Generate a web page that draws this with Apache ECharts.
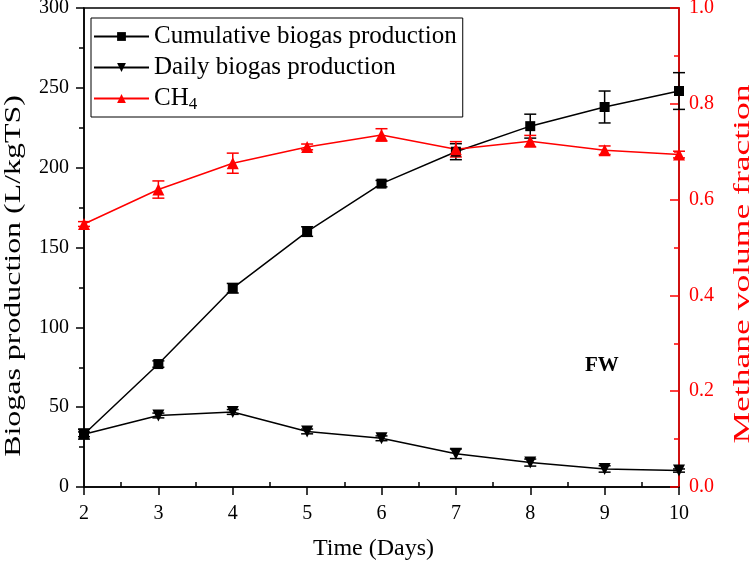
<!DOCTYPE html>
<html>
<head>
<meta charset="utf-8">
<script src="https://cdn.jsdelivr.net/npm/echarts@6/dist/echarts.min.js"></script>
<style>
  html, body { margin: 0; padding: 0; background: #fff; }
  #chart { width: 751px; height: 565px; }
</style>
</head>
<body>
<div id="chart"></div>
<script>
// days
var days = [2, 3, 4, 5, 6, 7, 8, 9, 10];
// cumulative biogas production (L/kgTS) and error
var cumulative = [33, 77, 124.5, 160, 190, 210, 226, 238, 248];
var cumulativeErr = [3, 2, 3, 3, 2, 5, 7.5, 10, 11.5];
// daily biogas production (L/kgTS) and error
var daily = [33, 44.8, 47, 34.8, 30.5, 20.8, 15.3, 11.3, 10.3];
var dailyErr = [1.5, 1.5, 1.5, 1.5, 1.5, 3, 2.2, 2, 1];
// methane volume fraction and error
var ch4 = [0.549, 0.621, 0.676, 0.71, 0.735, 0.705, 0.722, 0.703, 0.694];
var ch4Err = [0.005, 0.018, 0.021, 0.006, 0.013, 0.016, 0.012, 0.009, 0.007];

var font = '"Liberation Serif", "Times New Roman", serif';

function pairs(ys) {
  return days.map(function (d, i) { return [d, ys[i]]; });
}
function errData(ys, es) {
  return days.map(function (d, i) { return [d, ys[i] - es[i], ys[i] + es[i]]; });
}
function errSeries(ys, es, color, yIndex) {
  return {
    type: 'custom',
    yAxisIndex: yIndex,
    data: errData(ys, es),
    z: 3,
    silent: true,
    renderItem: function (params, api) {
      var lo = api.coord([api.value(0), api.value(1)]);
      var hi = api.coord([api.value(0), api.value(2)]);
      var w = 6;
      var st = { stroke: color, lineWidth: 1.5 };
      return {
        type: 'group',
        children: [
          { type: 'line', shape: { x1: lo[0], y1: lo[1], x2: hi[0], y2: hi[1] }, style: st },
          { type: 'line', shape: { x1: lo[0] - w, y1: lo[1], x2: lo[0] + w, y2: lo[1] }, style: st },
          { type: 'line', shape: { x1: hi[0] - w, y1: hi[1], x2: hi[0] + w, y2: hi[1] }, style: st }
        ]
      };
    }
  };
}

var chart = echarts.init(document.getElementById('chart'));
var option = {
  animation: false,
  textStyle: { fontFamily: font },
  grid: {
    left: 84, right: 72, top: 8, bottom: 78,
    containLabel: false, outerBoundsMode: 'none',
    show: true, borderColor: '#000', borderWidth: 1.5, backgroundColor: 'transparent'
  },
  legend: {
    orient: 'vertical',
    left: 91, top: 18,
    padding: [6, 6, 4, 2],
    borderColor: '#000', borderWidth: 1,
    itemWidth: 55, itemHeight: 11, itemGap: 6,
    textStyle: {
      fontFamily: font, fontSize: 25, color: '#000',
      rich: {
        n: { fontFamily: font, fontSize: 25, color: '#000' },
        s: { fontFamily: font, fontSize: 17, color: '#000', verticalAlign: 'bottom', padding: [12, 0, 0, 0] }
      }
    },
    formatter: function (name) {
      if (name === 'CH4') return '{n|CH}{s|4}';
      return name;
    },
    data: ['Cumulative biogas production', 'Daily biogas production', 'CH4']
  },
  xAxis: [
    {
      type: 'value', min: 2, max: 10, interval: 1,
      name: 'Time (Days)', nameLocation: 'middle', nameGap: 50,
      nameTextStyle: { fontFamily: font, fontSize: 24, color: '#000', padding: [0, 16, 0, 0] },
      axisLine: { lineStyle: { color: '#000', width: 1.5 } },
      axisTick: { length: 8, lineStyle: { color: '#000', width: 1.5 } },
      axisLabel: { fontFamily: font, fontSize: 20, color: '#000', margin: 17 },
      splitLine: { show: false }
    },
    {
      // inward minor ticks on the time axis
      type: 'value', min: 2, max: 10, interval: 1, position: 'bottom',
      axisLine: { show: false },
      axisTick: { show: false, inside: true },
      minorTick: { show: true, splitNumber: 2, length: 5, lineStyle: { color: '#000', width: 1.5 } },
      axisLabel: { show: false },
      splitLine: { show: false }
    }
  ],
  yAxis: [
    {
      type: 'value', min: 0, max: 300, interval: 50, position: 'left',
      axisLine: { show: true, lineStyle: { color: '#000', width: 1.5 } },
      axisTick: { show: true, length: 8, lineStyle: { color: '#000', width: 1.5 } },
      minorTick: { show: true, splitNumber: 2, length: 5, lineStyle: { color: '#000', width: 1.5 } },
      axisLabel: { fontFamily: font, fontSize: 20, color: '#000', margin: 15 },
      splitLine: { show: false }
    },
    {
      type: 'value', min: 0, max: 1, interval: 0.2, position: 'right',
      axisLine: { show: true, lineStyle: { color: '#ff0000', width: 1.5 } },
      axisTick: { show: true, inside: true, length: 9, lineStyle: { color: '#ff0000', width: 1.5 } },
      minorTick: { show: true, splitNumber: 2, length: 5, lineStyle: { color: '#ff0000', width: 1.5 } },
      axisLabel: {
        fontFamily: font, fontSize: 20, color: '#ff0000', margin: 10,
        formatter: function (v) { return v.toFixed(1); }
      },
      splitLine: { show: false }
    }
  ],
  series: [
    {
      name: 'Cumulative biogas production', type: 'line', yAxisIndex: 0,
      data: pairs(cumulative), symbol: 'rect', symbolSize: 10, showAllSymbol: true,
      lineStyle: { color: '#000', width: 1.5 }, itemStyle: { color: '#000' }, z: 4
    },
    {
      name: 'Daily biogas production', type: 'line', yAxisIndex: 0,
      data: pairs(daily), symbol: 'triangle', symbolRotate: 180, symbolSize: 12,
      lineStyle: { color: '#000', width: 1.5 }, itemStyle: { color: '#000' }, z: 4
    },
    {
      name: 'CH4', type: 'line', yAxisIndex: 1,
      data: pairs(ch4), symbol: 'triangle', symbolSize: 12,
      lineStyle: { color: '#ff0000', width: 1.5 }, itemStyle: { color: '#ff0000' }, z: 4
    },
    errSeries(cumulative, cumulativeErr, '#000', 0),
    errSeries(daily, dailyErr, '#000', 0),
    errSeries(ch4, ch4Err, '#ff0000', 1)
  ],
  graphic: [
    {
      // left axis title (stretched along its length as in the original)
      type: 'text', x: 14, y: 276, rotation: Math.PI / 2, scaleX: 1.33,
      style: {
        text: 'Biogas production (L/kgTS)', fontFamily: font, fontSize: 24, fill: '#000',
        align: 'center', verticalAlign: 'middle'
      }
    },
    {
      type: 'text', x: 743, y: 264, rotation: Math.PI / 2, scaleX: 1.48,
      style: {
        text: 'Methane volume fraction', fontFamily: font, fontSize: 24, fill: '#ff0000',
        align: 'center', verticalAlign: 'middle'
      }
    },
    {
      type: 'text', left: 585, top: 355,
      style: { text: 'FW', fontFamily: font, fontSize: 21, fontWeight: 'bold', fill: '#000' }
    }
  ]
};
chart.setOption(option);
</script>
</body>
</html>
